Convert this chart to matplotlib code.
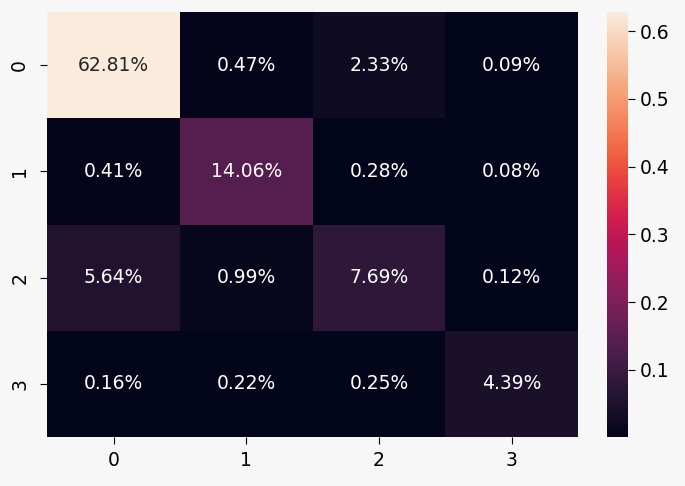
import numpy as np
import matplotlib
matplotlib.use("Agg")
import matplotlib.pyplot as plt
import seaborn as sns

labels = [0, 1, 2, 3]
row0 = [0.6281, 0.0047, 0.0233, 0.0009]
row1 = [0.0041, 0.1406, 0.0028, 0.0008]
row2 = [0.0564, 0.0099, 0.0769, 0.0012]
row3 = [0.0016, 0.0022, 0.0025, 0.0439]

cm = np.array([row0, row1, row2, row3])

bg = "#f7f7f7"
fig = plt.figure(figsize=(6.85, 4.86), dpi=100, facecolor=bg)
ax = fig.add_axes([0.069, 0.101, 0.775, 0.874])
cax = fig.add_axes([0.886, 0.101, 0.031, 0.874])

sns.heatmap(cm, annot=True, fmt=".2%", ax=ax, cbar_ax=cax,
            xticklabels=labels, yticklabels=labels,
            annot_kws={"fontsize": 13.5})

ax.tick_params(axis="x", labelsize=13.5, length=5, pad=5)
ax.tick_params(axis="y", labelsize=13.5, length=5, pad=8)
cax.tick_params(labelsize=13.5, length=5)

fig.savefig("out.png", dpi=100, facecolor=bg)
